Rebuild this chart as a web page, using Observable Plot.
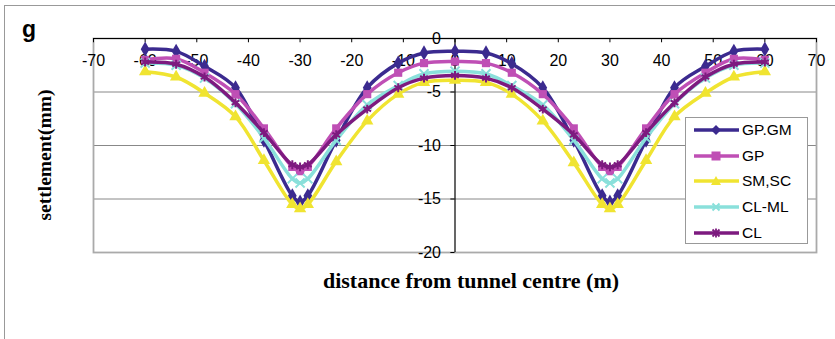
<!DOCTYPE html>
<html><head><meta charset="utf-8">
<script src="https://cdn.jsdelivr.net/npm/d3@7"></script>
<script src="https://cdn.jsdelivr.net/npm/@observablehq/plot@0.6"></script>
<style>
body{margin:0;background:#fff;}
#wrap{position:relative;width:835px;height:339px;overflow:hidden;font-family:"Liberation Sans",Arial,sans-serif;background:#fff;}
#outer{position:absolute;left:4px;top:5px;width:900px;height:400px;border-left:1px solid #999;border-top:1px solid #999;}
#chart{position:absolute;left:0;top:0;}
#g{position:absolute;left:22px;top:16px;font:bold 23px "Liberation Sans",Arial,sans-serif;}
#xt{position:absolute;left:0;width:942px;top:268px;text-align:center;font:bold 22px "Liberation Serif","Times New Roman",serif;}
#yt{position:absolute;left:45px;top:155px;transform:translate(-50%,-50%) rotate(-90deg);white-space:nowrap;font:bold 19.5px "Liberation Serif","Times New Roman",serif;}
#legend{position:absolute;left:685px;top:117px;width:123px;height:127px;border:1px solid #999;background:#fff;box-sizing:border-box;}
.row{position:absolute;left:8px;height:20px;display:flex;align-items:center;font-size:15.5px;}
.row span{margin-left:3px;}
</style></head><body>
<div id="wrap"><div id="outer"></div><div id="chart"></div>
<div id="g">g</div>
<div id="yt">settlement(mm)</div>
<div id="xt">distance from tunnel centre (m)</div>
<div id="legend"></div>
</div>
<script>
const distances = [-60,-54,-48.5,-42.5,-37,-31.5,-30,-28.5,-23,-17,-11,-6,0,6,11,17,23,28.5,30,31.5,37,42.5,48.5,54,60];
const seriesNames = ["GP.GM","GP","SM,SC","CL-ML","CL"];
const gpgm = [-1.0,-1.2,-2.6,-4.6,-9.5,-14.7,-15.3,-14.7,-9.5,-4.6,-2.3,-1.35,-1.2,-1.35,-2.35,-4.6,-9.5,-14.7,-15.3,-14.7,-9.5,-4.6,-2.6,-1.2,-1.0];
const gp = [-2.0,-1.9,-3.2,-5.2,-8.4,-12.0,-12.4,-12.0,-8.4,-5.2,-3.2,-2.3,-2.15,-2.3,-3.2,-5.2,-8.4,-12.0,-12.4,-12.0,-8.4,-5.2,-3.2,-1.9,-2.0];
const smsc = [-3.1,-3.6,-5.1,-7.3,-11.4,-15.5,-15.9,-15.5,-11.5,-7.7,-5.2,-4.1,-3.9,-4.1,-5.2,-7.7,-11.6,-15.5,-15.9,-15.5,-11.4,-7.3,-5.1,-3.6,-3.1];
const clml = [-2.3,-2.5,-3.7,-6.1,-9.3,-13.1,-13.5,-13.1,-9.5,-6.2,-4.4,-3.3,-3.05,-3.3,-4.4,-6.2,-9.5,-13.1,-13.5,-13.1,-9.3,-6.1,-3.7,-2.5,-2.3];
const cl = [-2.2,-2.4,-3.6,-6.0,-8.8,-11.8,-12.0,-11.8,-9.0,-6.6,-4.6,-3.7,-3.45,-3.7,-4.6,-6.6,-9.0,-11.8,-12.0,-11.8,-8.8,-6.0,-3.6,-2.4,-2.2];
const xTicks = [-70,-60,-50,-40,-30,-20,-10,0,10,20,30,40,50,60,70];
const yTicks = [0,-5,-10,-15,-20];
const gridValues = [-5,-10,-15];

const colors = ["#3b2a8f","#bf4fb5","#f0e431","#8ae0db","#7d1a7f"];
const symbols = ["diamond","square","triangle","times","asterisk"];
const filled = [true,true,true,false,false];
const allValues = [gpgm, gp, smsc, clml, cl];

const rows = [];
seriesNames.forEach((s,i)=>distances.forEach((d,j)=>rows.push({series:s, idx:i, x:d, y:allValues[i][j]})));

const marks = [
  Plot.ruleY(gridValues, {y:d=>d, stroke:"#888", strokeWidth:1}),
  Plot.frame({stroke:"#aaa", strokeWidth:1.8}),
  Plot.ruleY([0], {y:d=>d, stroke:"#000", strokeWidth:1.2}),
  Plot.ruleX(xTicks, {x:d=>d, y1:0, y2:-0.4, stroke:"#000"}),
  Plot.text(xTicks, {x:d=>d, y:0, dy:22, text:d=>String(d), fontSize:16, fill:"#000"}),
  Plot.ruleX([0], {x:d=>d, stroke:"#000", strokeWidth:1.2}),
  Plot.ruleY(yTicks, {y:d=>d, x1:-0.8, x2:0, stroke:"#000"}),
  Plot.text(yTicks, {x:0, y:d=>d, dx:-14, textAnchor:"end", text:d=>String(d), fontSize:16, fill:"#000"})
];
seriesNames.forEach((s,i)=>{
  const data = rows.filter(r=>r.idx===i);
  marks.push(Plot.line(data, {x:"x", y:"y", stroke:colors[i], strokeWidth:3.5, curve:"catmull-rom"}));
  if (filled[i]) marks.push(Plot.dot(data, {x:"x", y:"y", symbol:symbols[i], fill:colors[i], r:4.6}));
  else marks.push(Plot.dot(data, {x:"x", y:"y", symbol:symbols[i], stroke:colors[i], strokeWidth:2, r:4.2}));
});

const chart = Plot.plot({
  width:835, height:339,
  marginLeft:93, marginRight:19, marginTop:38, marginBottom:87,
  x:{domain:[-70,70], axis:null},
  y:{domain:[-20,0], axis:null},
  style:{fontFamily:"'Liberation Sans', Arial, sans-serif", background:"transparent", overflow:"visible"},
  marks
});
document.getElementById("chart").appendChild(chart);

// legend
const lg = document.getElementById("legend");
const rowY = [12, 37.5, 63, 89, 114.5];
const symPaths = {
  diamond: '<path d="M22,-5 L27,0 L22,5 L17,0Z" fill="C"/>',
  square: '<rect x="17.5" y="-4.5" width="9" height="9" fill="C"/>',
  triangle: '<path d="M22,-5 L27,4 L17,4Z" fill="C"/>',
  times: '<path d="M18.5,-3.5 L25.5,3.5 M25.5,-3.5 L18.5,3.5" stroke="C" stroke-width="2"/>',
  asterisk: '<path d="M18.5,-3.5 L25.5,3.5 M25.5,-3.5 L18.5,3.5 M22,-4.5 L22,4.5" stroke="C" stroke-width="1.8"/>'
};
seriesNames.forEach((s,i)=>{
  const d = document.createElement("div");
  d.className = "row";
  d.style.top = (rowY[i]-10) + "px";
  d.innerHTML = `<svg width="45" height="20" viewBox="0 -10 45 20"><line x1="0" x2="45" y1="0" y2="0" stroke="${colors[i]}" stroke-width="3.5"/>${symPaths[symbols[i]].replace(/C/g, colors[i])}</svg><span>${s}</span>`;
  lg.appendChild(d);
});
</script>
</body></html>
